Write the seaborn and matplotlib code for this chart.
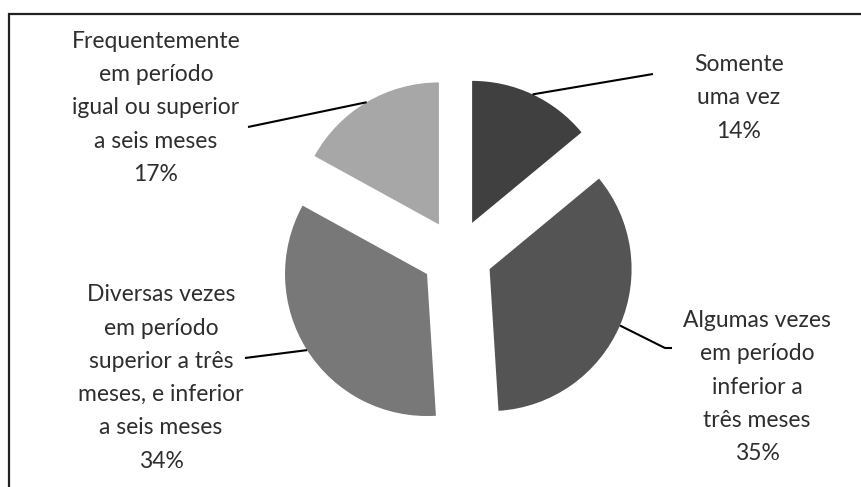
import matplotlib
matplotlib.use("Agg")
import matplotlib.pyplot as plt
import seaborn as sns
import numpy as np

# Survey answers: how often the event happened
categories = [
    "Somente\numa vez",
    "Algumas vezes\nem período\ninferior a\ntrês meses",
    "Diversas vezes\nem período\nsuperior a três\nmeses, e inferior\na seis meses",
    "Frequentemente\nem período\nigual ou superior\na seis meses",
]
shares = [14, 35, 34, 17]
slice_colors = ["#404040", "#545454", "#787878", "#a7a7a7"]

sns.set_theme(style="white")
plt.rcParams["font.family"] = ["Lato", "DejaVu Sans"]

W, H = 861, 487
fig = plt.figure(figsize=(W / 100, H / 100), dpi=100)
ax = fig.add_axes([0, 0, 1, 1])

center = (457, 232)
radius = 142
gap = 35.5  # explode distance (data units)
wedges, _ = ax.pie(
    shares,
    colors=slice_colors,
    startangle=90,
    counterclock=False,
    explode=[gap] * len(shares),
    radius=radius,
    center=center,
    wedgeprops=dict(linewidth=0),
)
ax.set_xlim(0, W)
ax.set_ylim(0, H)
ax.set_aspect("equal")
ax.set_axis_off()

# label blocks: (text-centre x, block-centre y, leader end points)
label_layout = [
    (739, 389, [(653, 413)]),
    (757, 100, [(665, 139), (672, 139)]),
    (161, 109, [(245, 129)]),
    (156, 379, [(248, 360)]),
]
text_color = "#2e2e2e"
for w, cat, share, (tx, ty, ends) in zip(wedges, categories, shares, label_layout):
    mid = np.deg2rad((w.theta1 + w.theta2) / 2)
    sx = w.center[0] + w.r * np.cos(mid)
    sy = w.center[1] + w.r * np.sin(mid)
    xs = [sx] + [e[0] for e in ends]
    ys = [sy] + [e[1] for e in ends]
    ax.plot(xs, ys, color="black", lw=1.5, solid_capstyle="butt")
    ax.text(tx, ty, f"{cat}\n{share}%", ha="center", va="center",
            fontsize=16.5, color=text_color, linespacing=1.72)

# outer frame: top and left edges
ax.plot([9, 9, W], [0, H - 14, H - 14], color="#222222", lw=1.6,
        solid_joinstyle="miter", clip_on=False)

fig.savefig("out.png", dpi=100)
